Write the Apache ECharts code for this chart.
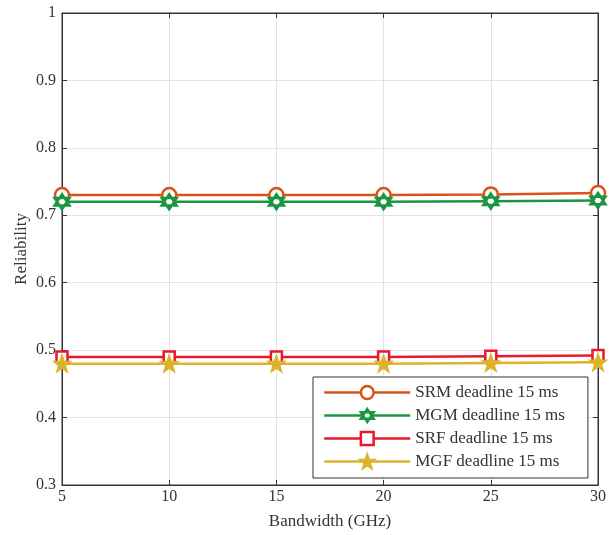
<!DOCTYPE html>
<html>
<head>
<meta charset="utf-8">
<script src="https://cdn.jsdelivr.net/npm/echarts@6/dist/echarts.min.js"></script>
<style>html,body{margin:0;padding:0;background:#fff;}#c{width:616px;height:535px;}</style>
</head>
<body>
<div id="c"></div>
<script>
const bandwidth = [5, 10, 15, 20, 25, 30];
const srm = [0.730, 0.730, 0.730, 0.730, 0.731, 0.733];
const mgm = [0.720, 0.720, 0.720, 0.720, 0.721, 0.722];
const srf = [0.490, 0.490, 0.490, 0.490, 0.491, 0.492];
const mgf = [0.480, 0.480, 0.480, 0.480, 0.481, 0.482];
const seriesNames = ['SRM deadline 15 ms', 'MGM deadline 15 ms', 'SRF deadline 15 ms', 'MGF deadline 15 ms'];

const FONT = 'Liberation Serif';
const AX = '#333333';
const hexagram = 'path://M0,-10 L8.66,5 L-8.66,5 Z M0,10 L-8.66,-5 L8.66,-5 Z';
const star5 = 'path://M0,-10 L2.35,-3.24 L9.51,-3.09 L3.8,1.24 L5.88,8.09 L0,4 L-5.88,8.09 L-3.8,1.24 L-9.51,-3.09 L-2.35,-3.24 Z';

function pts(vals) { return bandwidth.map((b, i) => [b, vals[i]]); }

function mk(name, vals, color, symbol, size, fill) {
  return {
    name: name, type: 'line', data: pts(vals),
    symbol: symbol, symbolSize: size, showAllSymbol: true,
    lineStyle: { color: color, width: 2.5 },
    itemStyle: { color: fill, borderColor: color, borderWidth: 2.5 },
    emphasis: { disabled: true }
  };
}

const chart = echarts.init(document.getElementById('c'), null, { renderer: 'canvas' });
chart.setOption({
  animation: false,
  backgroundColor: '#fff',
  grid: { left: 62, right: 18, top: 13, bottom: 49, show: true, borderColor: AX, borderWidth: 1, containLabel: false },
  xAxis: [{
    type: 'value', min: 5, max: 30, interval: 5,
    name: 'Bandwidth (GHz)', nameLocation: 'middle', nameGap: 28,
    nameTextStyle: { fontFamily: FONT, fontSize: 17, color: AX },
    axisLine: { lineStyle: { color: AX } },
    axisTick: { inside: true, length: 5, lineStyle: { color: AX } },
    axisLabel: { fontFamily: FONT, fontSize: 16, color: AX, margin: 4 },
    splitLine: { show: true, lineStyle: { color: '#e3e3e3' } }
  }, {
    type: 'value', position: 'top', min: 5, max: 30, interval: 5,
    axisLine: { lineStyle: { color: AX } },
    axisTick: { inside: true, length: 5, lineStyle: { color: AX } },
    axisLabel: { show: false }, splitLine: { show: false }
  }],
  yAxis: [{
    type: 'value', min: 0.3, max: 1, interval: 0.1,
    name: 'Reliability', nameLocation: 'middle', nameGap: 32, nameMoveOverlap: false,
    nameTextStyle: { fontFamily: FONT, fontSize: 17, color: AX },
    axisLine: { lineStyle: { color: AX } },
    axisTick: { inside: true, length: 5, lineStyle: { color: AX } },
    axisLabel: { fontFamily: FONT, fontSize: 16, color: AX, margin: 6,
      formatter: v => String(Math.round(v * 10) / 10) },
    splitLine: { show: true, lineStyle: { color: '#e3e3e3' } }
  }, {
    type: 'value', position: 'right', min: 0.3, max: 1, interval: 0.1,
    axisLine: { lineStyle: { color: AX } },
    axisTick: { inside: true, length: 5, lineStyle: { color: AX } },
    axisLabel: { show: false }, splitLine: { show: false }
  }],
  legend: {
    orient: 'vertical', left: 313, top: 377,
    data: seriesNames,
    itemWidth: 86, itemHeight: 16, itemGap: 6,
    padding: [7, 23, 8, 10],
    borderColor: AX, borderWidth: 1, backgroundColor: '#fff',
    textStyle: { fontFamily: FONT, fontSize: 17, color: AX, lineHeight: 16 },
    itemStyle: { borderWidth: 2.5 },
    lineStyle: { width: 2.5 }
  },
  series: [
    mk(seriesNames[0], srm, '#D95319', 'circle', 14, '#fff'),
    mk(seriesNames[1], mgm, '#1A9641', hexagram, 15, '#fff'),
    mk(seriesNames[2], srf, '#E8192C', 'rect', 11, '#fff'),
    mk(seriesNames[3], mgf, '#DBB42B', star5, 14, '#DBB42B')
  ]
});
</script>
</body>
</html>
